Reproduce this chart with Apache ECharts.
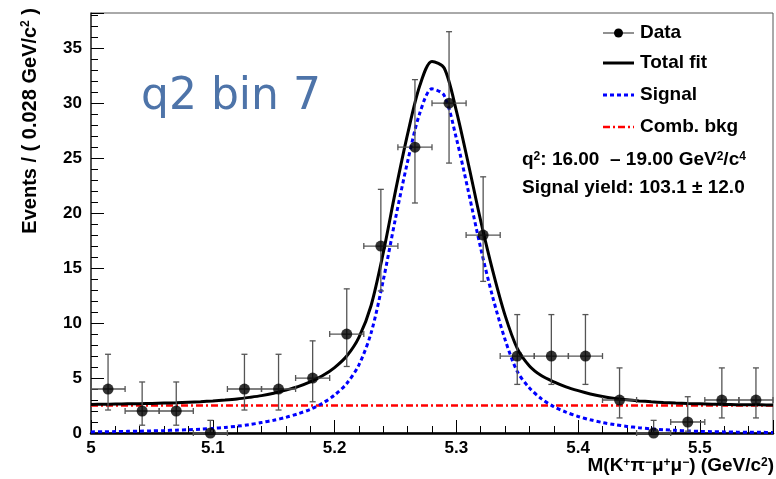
<!DOCTYPE html>
<html><head><meta charset="utf-8">
<script src="https://cdn.jsdelivr.net/npm/echarts@6/dist/echarts.min.js"></script>
<style>html,body{margin:0;padding:0;background:#fff}#c{width:776px;height:479px}</style>
</head><body><div id="c"></div>
<script>
// ---- data ----
const binWidth = 0.028;
const binCenters = [5.014,5.042,5.070,5.098,5.126,5.154,5.182,5.210,5.238,5.266,5.294,5.322,5.350,5.378,5.406,5.434,5.462,5.490,5.518,5.546];
const counts     = [4,2,2,0,4,4,5,9,17,26,30,18,7,7,7,3,0,1,3,3];
const errLow     = [2.09,0.71,0.71,0,2.09,2.09,2.84,6.05,12.92,20.92,24.55,13.79,4.42,4.42,4.42,1.37,0,0.17,1.37,1.37];
const errHigh    = [7.16,4.64,4.64,1.15,7.16,7.16,8.38,13.11,22.16,32.14,36.5,23.3,10.77,10.77,10.77,5.92,1.15,3.3,5.92,5.92];

const curveX   = [5.00,5.01,5.02,5.03,5.04,5.05,5.06,5.07,5.08,5.09,5.10,5.11,5.12,5.13,5.14,5.15,5.16,5.17,5.18,5.19,
                  5.20,5.21,5.22,5.23,5.24,5.25,5.26,5.27,5.28,5.29,5.30,5.31,5.32,5.33,5.34,5.35,5.36,5.37,5.38,5.39,
                  5.40,5.41,5.42,5.43,5.44,5.45,5.46,5.47,5.48,5.49,5.50,5.51,5.52,5.53,5.54,5.55,5.56];
const totalFit = [2.60,2.61,2.63,2.65,2.67,2.69,2.72,2.75,2.80,2.85,2.92,3.00,3.10,3.24,3.40,3.62,3.90,4.22,4.65,5.20,
                  5.95,7.00,8.70,11.6,16.4,22.0,27.2,31.6,33.8,33.2,29.3,24.4,19.3,14.7,10.7,7.7,6.1,5.2,4.65,4.2,
                  3.85,3.55,3.32,3.15,3.02,2.92,2.84,2.77,2.72,2.68,2.65,2.62,2.60,2.58,2.57,2.56,2.55];
const signal   = [0.10,0.11,0.13,0.15,0.17,0.19,0.22,0.26,0.30,0.35,0.42,0.51,0.62,0.76,0.95,1.16,1.42,1.75,2.15,2.70,
                  3.45,4.50,6.20,9.10,13.9,19.5,24.7,29.1,31.3,30.7,26.8,21.9,16.8,12.3,8.5,5.6,4.1,3.1,2.4,1.9,
                  1.50,1.20,0.95,0.76,0.60,0.48,0.38,0.30,0.24,0.19,0.15,0.12,0.10,0.08,0.07,0.06,0.05];
const bkgX = [5.00, 5.56];
const bkgY = [2.5, 2.5];

const xTickLabels = ['5','5.1','5.2','5.3','5.4','5.5'];
const yTickLabels = ['0','5','10','15','20','25','30','35'];
const xMin = 5.0, xMax = 5.56, yMin = 0, yMax = 38.2;

const legendLabels = ['Data','Total fit','Signal','Comb. bkg'];
const infoLines = ['q{s|2}: 16.00  \u2013 19.00 GeV{s|2}/c{s|4}', 'Signal yield: 103.1 \u00b1 12.0'];
const binTitle = 'q2 bin 7';
const yTitle = 'Events / ( 0.028 GeV/c{s|2} )';
const xTitle = 'M(K{s|+}\u03c0{s|\u2212}\u03bc{s|+}\u03bc{s|\u2212}) (GeV/c{s|2})';

// ---- chart ----
const F = '"Liberation Sans", Arial, Helvetica, sans-serif';
const chart = echarts.init(document.getElementById('c'));
const zip = (a, b) => a.map((v, i) => [v, b[i]]);
const pointData = binCenters.map((x, i) => [x, counts[i], errLow[i], errHigh[i]]);
const halfBin = binWidth / 2;
const fmt = (labels) => (v) => { const s = labels.find(l => Math.abs(parseFloat(l) - v) < 1e-6); return s === undefined ? '' : s; };
const supRich = (size) => ({ s: { fontSize: size, fontWeight: 'bold', fontFamily: F, verticalAlign: 'top', lineHeight: size + 1, fill: '#000' } });

const option = {
  animation: false,
  backgroundColor: '#fff',
  grid: { left: 91, right: 2, top: 13, bottom: 46, show: true, borderColor: '#555', borderWidth: 1 },
  xAxis: [
    { type: 'value', min: xMin, max: xMax, interval: 0.1, position: 'bottom',
      axisLine: { lineStyle: { color: '#000', width: 2.5 } },
      axisTick: { inside: true, length: 13, lineStyle: { color: '#000', width: 1 } },
      axisLabel: { formatter: fmt(xTickLabels), fontFamily: F, fontWeight: 'bold', fontSize: 17, color: '#000', margin: 7 },
      splitLine: { show: false } },
    { type: 'value', min: xMin, max: xMax, interval: 0.02, position: 'bottom',
      axisLine: { show: false },
      axisTick: { inside: true, length: 7, lineStyle: { color: '#000', width: 1 } },
      axisLabel: { show: false }, splitLine: { show: false } }
  ],
  yAxis: [
    { type: 'value', min: yMin, max: yMax, interval: 5, position: 'left',
      axisLine: { show: true, lineStyle: { color: '#333', width: 1.5 } },
      axisTick: { show: true, inside: true, length: 13, lineStyle: { color: '#000', width: 1 } },
      axisLabel: { formatter: fmt(yTickLabels), fontFamily: F, fontWeight: 'bold', fontSize: 17, color: '#000', margin: 9 },
      splitLine: { show: false } },
    { type: 'value', min: yMin, max: yMax, interval: 1, position: 'left',
      axisLine: { show: false },
      axisTick: { show: true, inside: true, length: 7, lineStyle: { color: '#000', width: 1 } },
      axisLabel: { show: false }, splitLine: { show: false } }
  ],
  series: [
    { type: 'line', data: zip(bkgX, bkgY), symbol: 'none', z: 3,
      lineStyle: { color: '#ff0000', width: 2.5, type: [7, 3, 2, 3] } },
    { type: 'line', data: zip(curveX, signal), symbol: 'none', smooth: 0.3, z: 4,
      lineStyle: { color: '#0000ff', width: 3, type: [4, 3] } },
    { type: 'line', data: zip(curveX, totalFit), symbol: 'none', smooth: 0.3, z: 5,
      lineStyle: { color: '#000', width: 3 } },
    { type: 'custom', data: pointData, z: 6, clip: false,
      renderItem: function (params, api) {
        const x = api.value(0), y = api.value(1), lo = api.value(2), hi = api.value(3);
        const pLo = api.coord([x, lo]), pHi = api.coord([x, hi]);
        const pL = api.coord([x - halfBin, y]), pR = api.coord([x + halfBin, y]);
        const st = { stroke: '#555', lineWidth: 1.3 };
        const c = 3;
        const L = (x1, y1, x2, y2) => ({ type: 'line', shape: { x1, y1, x2, y2 }, style: st });
        return { type: 'group', children: [
          L(pLo[0], pLo[1], pHi[0], pHi[1]),
          L(pHi[0] - c, pHi[1], pHi[0] + c, pHi[1]),
          L(pLo[0] - c, pLo[1], pLo[0] + c, pLo[1]),
          L(pL[0], pL[1], pR[0], pR[1]),
          L(pL[0], pL[1] - c, pL[0], pL[1] + c),
          L(pR[0], pR[1] - c, pR[0], pR[1] + c)
        ] };
      } },
    { type: 'scatter', data: pointData.map(d => [d[0], d[1]]), symbol: 'circle', symbolSize: 11, z: 7,
      itemStyle: { color: '#000' } }
  ],
  graphic: [
    { type: 'text', x: 30, y: 8, rotation: Math.PI / 2, z: 10,
      style: { text: yTitle, font: 'bold 20px ' + F, fill: '#000', textAlign: 'right', textVerticalAlign: 'middle', rich: supRich(12) } },
    { type: 'text', x: 774, y: 466, z: 10,
      style: { text: xTitle, font: 'bold 19px ' + F, fill: '#000', textAlign: 'right', textVerticalAlign: 'middle', rich: supRich(12) } },
    { type: 'text', x: 141, y: 98, z: 10,
      style: { text: binTitle, font: '44px "DejaVu Sans", sans-serif', fill: '#4e74a9', textAlign: 'left', textVerticalAlign: 'middle' } },
    // legend
    { type: 'line', shape: { x1: 603, y1: 33, x2: 634, y2: 33 }, style: { stroke: '#555', lineWidth: 1.3 }, z: 10 },
    { type: 'circle', shape: { cx: 618.5, cy: 33, r: 4.5 }, style: { fill: '#000' }, z: 11 },
    { type: 'line', shape: { x1: 603, y1: 63, x2: 634, y2: 63 }, style: { stroke: '#000', lineWidth: 3 }, z: 10 },
    { type: 'line', shape: { x1: 603, y1: 95, x2: 634, y2: 95 }, style: { stroke: '#0000ff', lineWidth: 3, lineDash: [4, 3] }, z: 10 },
    { type: 'line', shape: { x1: 603, y1: 127, x2: 634, y2: 127 }, style: { stroke: '#ff0000', lineWidth: 2.5, lineDash: [7, 3, 2, 3] }, z: 10 },
    { type: 'text', x: 640, y: 33, z: 10, style: { text: legendLabels[0], font: 'bold 19px ' + F, fill: '#000', textVerticalAlign: 'middle' } },
    { type: 'text', x: 640, y: 63, z: 10, style: { text: legendLabels[1], font: 'bold 19px ' + F, fill: '#000', textVerticalAlign: 'middle' } },
    { type: 'text', x: 640, y: 95, z: 10, style: { text: legendLabels[2], font: 'bold 19px ' + F, fill: '#000', textVerticalAlign: 'middle' } },
    { type: 'text', x: 640, y: 127, z: 10, style: { text: legendLabels[3], font: 'bold 19px ' + F, fill: '#000', textVerticalAlign: 'middle' } },
    { type: 'text', x: 522, y: 160, z: 10, style: { text: infoLines[0], font: 'bold 19px ' + F, fill: '#000', textVerticalAlign: 'middle', rich: supRich(12) } },
    { type: 'text', x: 522, y: 188, z: 10, style: { text: infoLines[1], font: 'bold 19px ' + F, fill: '#000', textVerticalAlign: 'middle' } }
  ]
};
chart.setOption(option);
</script>
</body></html>
